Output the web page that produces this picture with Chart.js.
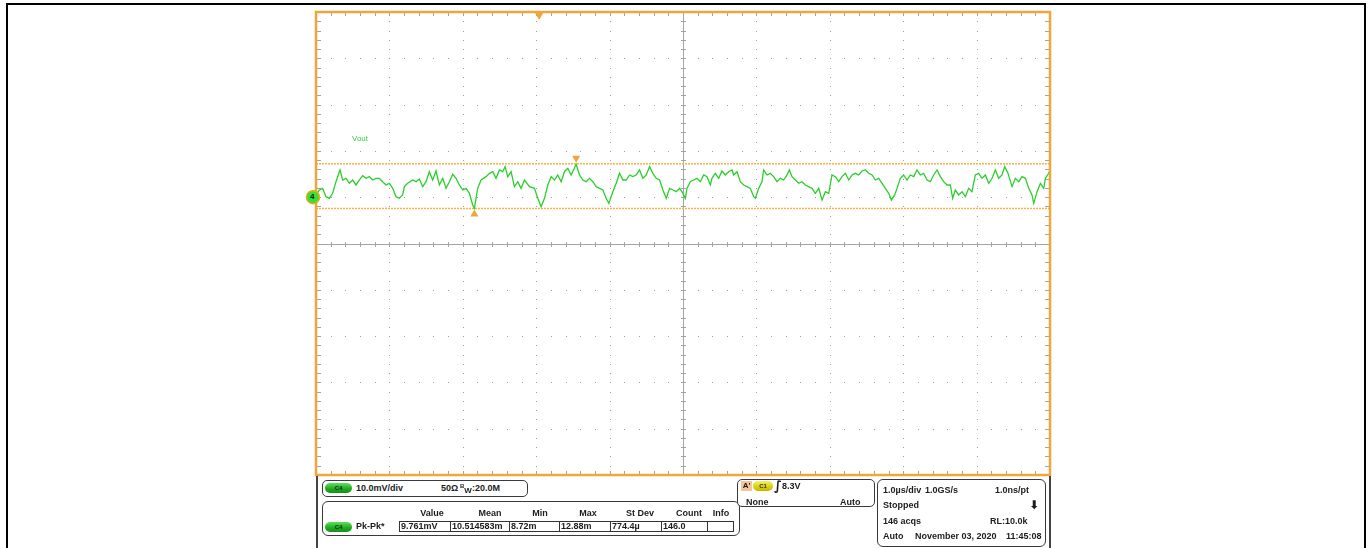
<!DOCTYPE html>
<html>
<head>
<meta charset="utf-8">
<script src="https://cdn.jsdelivr.net/npm/chart.js@4.4.1/dist/chart.umd.min.js"></script>
<style>
  html, body { margin: 0; padding: 0; background: #fff; }
  #wrap { position: relative; width: 1370px; height: 548px; overflow: hidden; background: #fff; }
  #frame { position: absolute; left: 6px; top: 3px; width: 1360px; height: 600px; border: 2px solid #000; box-sizing: border-box; }
  canvas { position: absolute; left: 0; top: 0; }
  .t { position: absolute; font-family: "Liberation Sans", Arial, sans-serif; font-weight: bold; font-size: 9px; line-height: 10px; color: #1c1c1c; white-space: nowrap; }
  .c { transform: translateX(-50%); }
  .box { position: absolute; border: 1px solid #3a3a3a; border-radius: 5px; box-sizing: border-box; background: #fff; }
  .pill { position: absolute; width: 27px; height: 10px; border-radius: 5px; background: linear-gradient(#5fe05f, #1fa81f 60%, #189018); font-family: "Liberation Sans", Arial, sans-serif; font-weight: bold; font-size: 6px; line-height: 10px; text-align: center; color: #0a3a0a; }
  .pill.y { background: linear-gradient(#f4f070, #d8cf10 60%, #c2b800); color: #3a3600; width: 20px; }
  .cell { position: absolute; top: 521px; height: 11px; border: 1px solid #333; box-sizing: border-box; }
  #panel { position: absolute; left: 316px; top: 476px; width: 735px; height: 80px; border-left: 2px solid #444; border-right: 2px solid #444; box-sizing: border-box; }
</style>
</head>
<body>
<div id="wrap">
  <canvas id="c" width="1370" height="548"></canvas>
  <div id="frame"></div>

  <div class="t" style="left:352px;top:134px;font-size:8px;font-weight:normal;color:#3ccf3c;">Vout</div>
  <div class="t" style="left:310px;top:192px;font-size:8px;color:#111;">4</div>

  <div id="panel"></div>
  <!-- channel box -->
  <div class="box" style="left:322px;top:480px;width:206px;height:17px;"></div>
  <div class="pill" style="left:325px;top:483px;">C4</div>
  <div class="t" style="left:356px;top:483px;">10.0mV/div</div>
  <div class="t" style="left:441px;top:483px;">50Ω</div>
  <div class="t" style="left:460px;top:483px;"><span style="font-size:6px;position:relative;top:-3px;">B</span><span style="font-size:8px;position:relative;top:2px;">W</span>:20.0M</div>

  <!-- measurement box -->
  <div class="box" style="left:322px;top:501px;width:418px;height:35px;border-radius:6px;"></div>
  <div class="t c" style="left:432px;top:508px;">Value</div>
  <div class="t c" style="left:490px;top:508px;">Mean</div>
  <div class="t c" style="left:540px;top:508px;">Min</div>
  <div class="t c" style="left:588px;top:508px;">Max</div>
  <div class="t c" style="left:640px;top:508px;">St Dev</div>
  <div class="t c" style="left:689px;top:508px;">Count</div>
  <div class="t c" style="left:721px;top:508px;">Info</div>
  <div class="pill" style="left:325px;top:522px;">C4</div>
  <div class="t" style="left:356px;top:521px;">Pk-Pk*</div>
  <div class="cell" style="left:399px;width:52px;"></div>
  <div class="cell" style="left:450px;width:60px;"></div>
  <div class="cell" style="left:509px;width:51px;"></div>
  <div class="cell" style="left:559px;width:52px;"></div>
  <div class="cell" style="left:610px;width:52px;"></div>
  <div class="cell" style="left:661px;width:47px;"></div>
  <div class="cell" style="left:707px;width:27px;"></div>
  <div class="t" style="left:401px;top:521px;">9.761mV</div>
  <div class="t" style="left:452px;top:521px;">10.514583m</div>
  <div class="t" style="left:511px;top:521px;">8.72m</div>
  <div class="t" style="left:561px;top:521px;">12.88m</div>
  <div class="t" style="left:612px;top:521px;">774.4µ</div>
  <div class="t" style="left:663px;top:521px;">146.0</div>

  <!-- trigger box -->
  <div class="box" style="left:737px;top:479px;width:138px;height:28px;"></div>
  <div class="t" style="left:741px;top:481px;width:11px;height:10px;background:#f3c79a;font-size:8px;line-height:10px;text-align:center;">A'</div>
  <div class="pill y" style="left:753px;top:481px;">C1</div>
  <div class="t" style="left:774px;top:479px;font-size:13px;line-height:14px;font-weight:bold;font-style:italic;font-family:'DejaVu Sans',sans-serif;">∫</div>
  <div class="t" style="left:782px;top:481px;">8.3V</div>
  <div class="t" style="left:746px;top:497px;">None</div>
  <div class="t" style="left:840px;top:497px;">Auto</div>

  <!-- timebase box -->
  <div class="box" style="left:877px;top:479px;width:169px;height:68px;border-radius:6px;"></div>
  <div class="t" style="left:883px;top:485px;">1.0µs/div</div>
  <div class="t" style="left:925px;top:485px;">1.0GS/s</div>
  <div class="t" style="left:995px;top:485px;">1.0ns/pt</div>
  <div class="t" style="left:883px;top:500px;">Stopped</div>
  <div class="t" style="left:1029px;top:498px;font-size:12px;line-height:14px;font-family:'DejaVu Sans',sans-serif;">⬇</div>
  <div class="t" style="left:883px;top:516px;">146 acqs</div>
  <div class="t" style="left:990px;top:516px;">RL:10.0k</div>
  <div class="t" style="left:883px;top:531px;">Auto</div>
  <div class="t" style="left:915px;top:531px;">November 03, 2020</div>
  <div class="t" style="left:1006px;top:531px;">11:45:08</div>
</div>

<script>
// ---- data (time in µs, Vout in mV relative to channel 4 ground) ----
const timeUs = [
 -5.000,-4.955,-4.909,-4.864,-4.818,-4.773,-4.728,-4.673,-4.637,-4.591,-4.546,-4.500,-4.455,-4.410,-4.364,-4.319,-4.274,-4.228,-4.183,-4.137,
 -4.092,-4.046,-4.001,-3.955,-3.910,-3.865,-3.819,-3.796,-3.751,-3.683,-3.637,-3.592,-3.546,-3.501,-3.456,-3.410,-3.365,-3.319,-3.274,-3.228,
 -3.183,-3.137,-3.092,-3.047,-3.001,-2.956,-2.910,-2.865,-2.842,-2.797,-2.751,-2.683,-2.637,-2.592,-2.547,-2.501,-2.456,-2.424,-2.388,-2.342,
 -2.297,-2.251,-2.206,-2.160,-2.092,-2.024,-1.978,-1.933,-1.887,-1.842,-1.797,-1.751,-1.706,-1.660,-1.615,-1.569,-1.524,-1.492,-1.456,-1.410,
 -1.365,-1.319,-1.274,-1.228,-1.183,-1.138,-1.092,-1.047,-1.010,-0.956,-0.910,-0.865,-0.819,-0.774,-0.728,-0.683,-0.638,-0.592,-0.547,-0.501,
 -0.456,-0.410,-0.365,-0.319,-0.274,-0.228,-0.183,-0.137,-0.092,-0.046,
 -0.014,0.009,0.032,0.054,0.100,0.145,0.191,0.236,0.282,0.327,0.373,0.395,0.440,0.486,0.531,0.577,0.622,0.668,0.690,0.736,
 0.781,0.827,0.872,0.917,0.963,0.986,1.031,1.076,1.099,1.144,1.190,1.235,1.281,1.326,1.372,1.417,1.449,1.485,1.531,1.576,
 1.621,1.667,1.712,1.758,1.803,1.849,1.894,1.940,1.985,2.030,2.076,2.121,2.167,2.212,2.258,2.303,2.348,2.394,2.439,2.485,
 2.530,2.576,2.621,2.666,2.712,2.757,2.803,2.839,2.884,2.916,2.961,3.006,3.052,3.097,3.143,3.188,3.233,3.279,3.324,3.370,
 3.415,3.461,3.506,3.551,3.597,3.642,3.674,3.710,3.756,3.801,3.847,3.892,3.937,3.983,4.028,4.074,4.119,4.165,4.210,4.256,
 4.301,4.346,4.383,4.428,4.483,4.528,4.574,4.619,4.665,4.710,4.755,4.778,4.824,4.869,4.915,4.937,4.982,5.000
];
const voutMv = [
 0.48,1.55,1.91,0.11,-0.24,0.84,3.35,5.88,3.71,4.08,3.00,3.71,2.64,3.71,4.65,4.08,4.44,3.71,4.08,4.08,
 3.35,2.64,3.00,1.91,0.11,-0.24,0.48,2.28,3.00,3.71,3.35,3.93,2.28,3.35,5.51,3.71,5.66,2.64,4.08,1.91,
 3.35,4.94,4.08,2.64,1.55,1.91,0.84,-1.69,-2.40,1.91,3.71,4.44,5.16,5.51,4.08,5.88,5.51,6.59,4.44,5.51,
 2.28,3.35,1.91,3.71,2.28,1.91,-0.24,-2.05,-0.24,2.64,4.44,3.71,4.80,3.35,5.51,6.24,4.80,5.88,7.10,4.80,
 3.71,3.35,4.08,3.35,2.28,1.91,1.55,-0.24,-1.33,1.19,3.00,5.16,3.71,3.71,4.80,4.44,4.80,5.88,4.08,4.80,
 6.59,5.16,4.08,3.71,1.55,-0.24,1.91,1.55,1.19,1.91,
 1.19,0.48,-0.24,1.91,3.35,3.71,4.08,3.35,4.80,4.44,2.64,4.08,5.16,4.08,5.66,4.80,5.51,5.88,4.80,5.51,
 3.35,2.64,2.28,1.91,0.11,-0.24,1.91,3.35,5.88,4.80,5.16,4.44,3.35,4.08,3.71,4.80,5.88,4.44,3.71,3.00,
 3.35,2.64,2.28,1.91,0.84,1.91,-0.60,1.19,0.84,4.80,4.44,3.35,4.44,5.16,3.71,4.80,5.16,4.80,5.66,5.88,
 5.16,4.80,3.71,4.08,3.00,1.91,0.84,-0.60,0.48,1.91,4.08,4.80,3.71,4.80,4.44,5.88,4.80,5.16,3.71,3.35,
 4.80,5.88,4.44,3.35,2.64,2.64,-0.24,1.55,0.48,1.19,0.11,1.91,1.19,4.80,5.16,4.08,4.80,3.00,4.08,5.88,
 4.08,4.80,6.59,5.16,2.28,4.08,3.35,4.44,4.08,1.91,0.48,-1.33,1.19,3.00,1.91,4.08,5.16,5.88
];
// cursors (mV) and marker times (µs)
const cursorLevels = [7.2, -2.45];
const maxMarkerT = -1.456;
const minMarkerT = -2.842;
const triggerT = -1.96;
// screen: 10 div x 10 div, 1.0 µs/div, 10 mV/div, ch4 ground one div above centre
const xRange = [-5, 5];
const yRange = [-60, 40];

const points = timeUs.map((t, i) => ({ x: t, y: voutMv[i] }));

const ORANGE = '#f0a63a';

const scopePlugin = {
  id: 'scope',
  beforeDatasetsDraw(chart) {
    const { ctx, chartArea: a, scales: { x, y } } = chart;
    ctx.save();
    // dotted major grid
    ctx.fillStyle = '#a0a0a0';
    for (let v = xRange[0] + 1; v < xRange[1]; v++) {
      if (v === 0) continue;
      const px = Math.round(x.getPixelForValue(v));
      for (let w = yRange[0]; w <= yRange[1] + 0.001; w += 2) {
        ctx.fillRect(px, Math.round(y.getPixelForValue(w)), 1, 1);
      }
    }
    for (let w = yRange[0] + 10; w < yRange[1]; w += 10) {
      if (w === -10) continue;
      const py = Math.round(y.getPixelForValue(w));
      for (let v = xRange[0]; v <= xRange[1] + 0.001; v += 0.2) {
        ctx.fillRect(Math.round(x.getPixelForValue(v)), py, 1, 1);
      }
    }
    // centre cross
    const cx = Math.round(x.getPixelForValue(0)) + 0.5;
    const cy = Math.round(y.getPixelForValue(-10)) + 0.5;
    ctx.strokeStyle = '#a4a4a4';
    ctx.lineWidth = 1;
    ctx.beginPath();
    ctx.moveTo(a.left, cy); ctx.lineTo(a.right, cy);
    ctx.moveTo(cx, a.top); ctx.lineTo(cx, a.bottom);
    for (let v = xRange[0]; v <= xRange[1] + 0.001; v += 0.2) {
      const px = Math.round(x.getPixelForValue(v)) + 0.5;
      ctx.moveTo(px, cy - 2.5); ctx.lineTo(px, cy + 2.5);
      ctx.moveTo(px, a.top); ctx.lineTo(px, a.top + 4);
      ctx.moveTo(px, a.bottom); ctx.lineTo(px, a.bottom - 4);
    }
    for (let w = yRange[0]; w <= yRange[1] + 0.001; w += 2) {
      const py = Math.round(y.getPixelForValue(w)) + 0.5;
      ctx.moveTo(cx - 2.5, py); ctx.lineTo(cx + 2.5, py);
      ctx.moveTo(a.left, py); ctx.lineTo(a.left + 5, py);
      ctx.moveTo(a.right, py); ctx.lineTo(a.right - 5, py);
    }
    ctx.stroke();
    // cursors
    ctx.strokeStyle = '#f4b24a';
    ctx.lineWidth = 1.5;
    ctx.setLineDash([2, 1]);
    ctx.beginPath();
    cursorLevels.forEach(l => {
      const py = y.getPixelForValue(l);
      ctx.moveTo(a.left, py); ctx.lineTo(a.right, py);
    });
    ctx.stroke();
    ctx.restore();
  },
  afterDatasetsDraw(chart) {
    const { ctx, chartArea: a, scales: { x, y } } = chart;
    ctx.save();
    // frame
    ctx.strokeStyle = ORANGE;
    ctx.lineWidth = 2.5;
    ctx.strokeRect(a.left, a.top, a.right - a.left, a.bottom - a.top);
    // triangles
    ctx.fillStyle = ORANGE;
    const tri = (px, tipY, down) => {
      ctx.beginPath();
      const base = down ? tipY - 7 : tipY + 7;
      ctx.moveTo(px - 4, base); ctx.lineTo(px + 4, base); ctx.lineTo(px, tipY);
      ctx.closePath(); ctx.fill();
    };
    tri(x.getPixelForValue(triggerT), a.top + 8, true);
    tri(x.getPixelForValue(maxMarkerT), y.getPixelForValue(cursorLevels[0]) - 1, true);
    tri(x.getPixelForValue(minMarkerT), y.getPixelForValue(cursorLevels[1]) + 1, false);
    // channel 4 ground marker
    const gy = y.getPixelForValue(0);
    ctx.beginPath();
    ctx.arc(a.left - 3, gy, 6.5, 0, Math.PI * 2);
    ctx.fillStyle = '#36e036';
    ctx.fill();
    ctx.lineWidth = 1.5;
    ctx.strokeStyle = '#d6b21c';
    ctx.stroke();
    ctx.restore();
  }
};

new Chart(document.getElementById('c'), {
  type: 'line',
  data: {
    datasets: [{
      label: 'Vout',
      data: points,
      borderColor: '#2bcf2b',
      borderWidth: 1.3,
      pointRadius: 0,
      tension: 0,
      fill: false
    }]
  },
  options: {
    responsive: false,
    devicePixelRatio: 1,
    animation: false,
    layout: { padding: { left: 316, top: 12, right: 320, bottom: 73 } },
    scales: {
      x: { type: 'linear', min: xRange[0], max: xRange[1], display: false },
      y: { type: 'linear', min: yRange[0], max: yRange[1], display: false }
    },
    plugins: { legend: { display: false }, tooltip: { enabled: false } }
  },
  plugins: [scopePlugin]
});
</script>
</body>
</html>
